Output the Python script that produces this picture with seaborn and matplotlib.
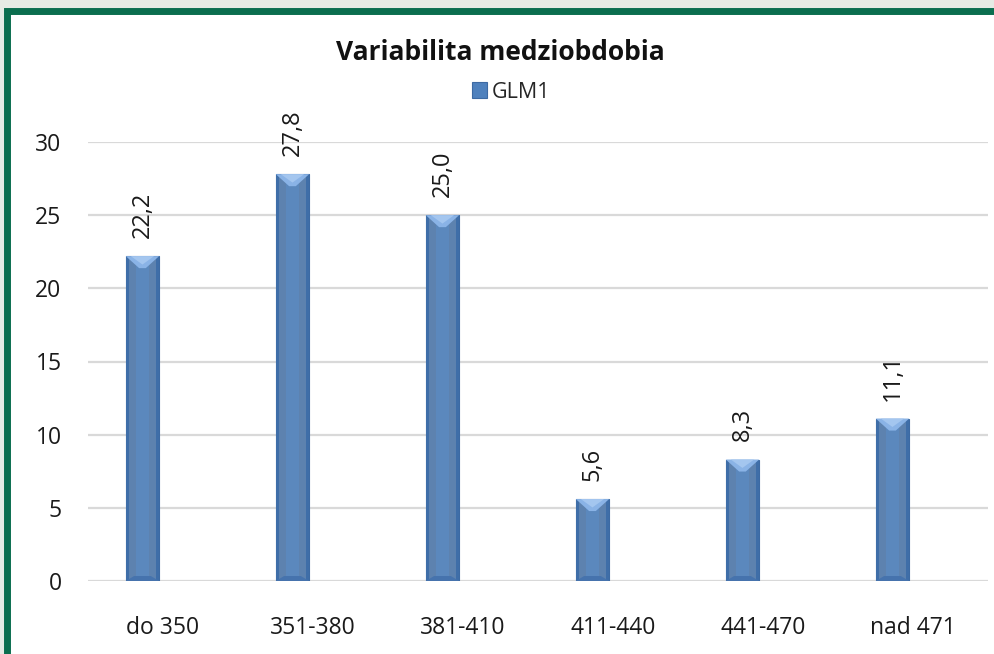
import matplotlib.pyplot as plt
import seaborn as sns
import numpy as np
import pandas as pd
from matplotlib.patches import Rectangle, Polygon

# data
categories = ["do 350", "351-380", "381-410", "411-440", "441-470", "nad 471"]
values = [22.2, 27.8, 25.0, 5.6, 8.3, 11.1]
value_labels = ["22,2", "27,8", "25,0", "5,6", "8,3", "11,1"]
series_name = "GLM1"
yticks = [0, 5, 10, 15, 20, 25, 30]

df = pd.DataFrame({"kat": categories, "hodnota": values})

sns.set_style("white")
plt.rcParams['font.family'] = ['Open Sans', 'DejaVu Sans']

W, H = 995, 654
fig = plt.figure(figsize=(W / 100, H / 100), dpi=100, facecolor="#e6ebe5")

# white card with green frame
fig.patches.append(Rectangle((7.5 / W, -0.05), 1.1, 1 - 11 / H + 0.05,
                             transform=fig.transFigure, facecolor="white",
                             edgecolor="#0b6e4f", linewidth=5, zorder=-10))

ax = fig.add_axes([88 / W, 1 - 581 / H, 900 / W, 439 / H])
ax.set_zorder(5)
ax.set_facecolor("none")

bar_color = "#4f81bd"
sns.barplot(data=df, x="kat", y="hodnota", color=bar_color, width=0.222,
            ax=ax, zorder=3)

ax.set_xlim(-0.5, len(categories) - 0.5)
ax.set_ylim(0, 30)
ax.set_yticks(yticks)
ax.yaxis.grid(True, color="#d9d9d9", linewidth=1.6, zorder=0)
ax.set_axisbelow(True)
for s in ax.spines.values():
    s.set_visible(False)
ax.set_xlabel("")
ax.set_ylabel("")
ax.tick_params(axis="y", length=0, pad=19, labelsize=16.5, labelcolor="#1a1a1a")
ax.tick_params(axis="x", length=0, pad=25, labelsize=16.5, labelcolor="#1a1a1a")

# shift bars left in their slot (Excel layout) and add bevel shading
px = 1 / 150.0        # one pixel in x data units
py = 30 / 439.0       # one pixel in y data units
for p, lab in zip(list(ax.patches), value_labels):
    p.set_x(p.get_x() - 0.137)
    p.set_edgecolor("#3d6aa3")
    p.set_linewidth(0.8)
    x0, w, h = p.get_x(), p.get_width(), p.get_height()
    bev = 12 * py
    # side shading
    ax.add_patch(Rectangle((x0, 0), 3 * px, h, facecolor="#3f6ea8", lw=0, zorder=4))
    ax.add_patch(Rectangle((x0 + w - 3 * px, 0), 3 * px, h, facecolor="#3f6ea8", lw=0, zorder=4))
    ax.add_patch(Rectangle((x0 + 0.3 * w, 0), 0.4 * w, h, facecolor="#5b8dc8", lw=0, zorder=4, alpha=0.6))
    # top bevel
    ax.add_patch(Polygon([(x0, h), (x0 + w, h), (x0 + 0.6 * w, h - bev), (x0 + 0.4 * w, h - bev)],
                         closed=True, facecolor="#8ab3e6", lw=0, zorder=5))
    ax.add_patch(Polygon([(x0 + 0.15 * w, h), (x0 + 0.85 * w, h), (x0 + 0.5 * w, h - 0.7 * bev)],
                         closed=True, facecolor="#a4c6ef", lw=0, zorder=6))
    # bottom bevel
    ax.add_patch(Polygon([(x0, 0), (x0 + w, 0), (x0 + 0.75 * w, 5 * py), (x0 + 0.25 * w, 5 * py)],
                         closed=True, facecolor="#4673ad", lw=0, zorder=5))
    ax.annotate(lab, (x0 + w / 2, h), xytext=(0, 13), textcoords="offset points",
                rotation=90, ha="center", va="bottom", fontsize=17, color="#1a1a1a",
                annotation_clip=False)

fig.text(500 / W, 1 - 52 / H, "Variabilita medziobdobia", ha="center", va="center",
         fontsize=19, fontweight="bold", color="#111111")

handle = Rectangle((0, 0), 1, 1, facecolor=bar_color, edgecolor="#3d6aa3", linewidth=0.8)
fig.legend([handle], [series_name], loc="center", bbox_to_anchor=(511 / W, 1 - 92 / H),
           frameon=False, fontsize=15.5, handlelength=0.7, handleheight=0.7,
           handletextpad=0.25, borderpad=0)

fig.savefig("out.png", dpi=100, facecolor=fig.get_facecolor())
